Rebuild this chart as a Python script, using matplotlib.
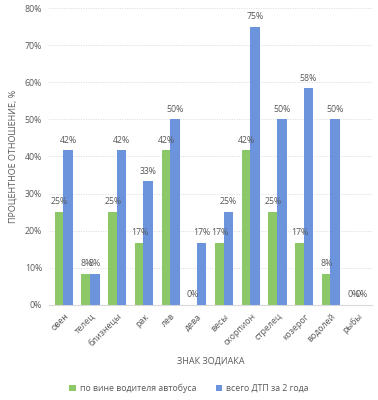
import matplotlib
matplotlib.use("Agg")
import matplotlib.pyplot as plt
import numpy as np
from matplotlib.ticker import PercentFormatter

signs = ["овен", "телец", "близнецы", "рак", "лев", "дева", "весы",
         "скорпион", "стрелец", "козерог", "водолей", "рыбы"]
bus_fault = [25, 8.33, 25, 16.67, 41.67, 0, 16.67, 41.67, 25, 16.67, 8.33, 0]
total = [41.67, 8.33, 41.67, 33.33, 50, 16.67, 25, 75, 50, 58.33, 50, 0]
series_names = ["по вине водителя автобуса", "всего ДТП за 2 года"]

plt.rcParams['font.family'] = ['Open Sans', 'DejaVu Sans']
txt = '#595959'
green = '#8cc868'
blue = '#6b94dc'

fig = plt.figure(figsize=(3.78, 4.0), dpi=100)
ax = fig.add_axes([0.13, 0.238, 0.855, 0.742])

x = np.arange(len(signs))
w = 0.36
b1 = ax.bar(x - 0.16, bus_fault, w, color=green, label=series_names[0], zorder=2)
b2 = ax.bar(x + 0.16, total, w, color=blue, label=series_names[1], zorder=3)

for bars in (b1, b2):
    for r in bars:
        h = r.get_height()
        ax.text(r.get_x() + r.get_width() / 2, h + 1.5, f"{h:.0f}%",
                ha='center', va='bottom', fontsize=6.3, color=txt, zorder=4)

ax.set_ylim(0, 80)
ax.set_xlim(-0.55, len(signs) - 0.45)
ax.set_yticks(range(0, 81, 10))
ax.yaxis.set_major_formatter(PercentFormatter(decimals=0))
ax.set_xticks(x)
ax.set_xticklabels(signs, rotation=45, ha='right', rotation_mode='anchor')
ax.tick_params(axis='both', length=0, labelsize=6.3, colors=txt, pad=5)
ax.grid(axis='y', color='#d9d9d9', linestyle=(0, (1, 1.5)), linewidth=0.7, zorder=0)
for s in ['top', 'right', 'left']:
    ax.spines[s].set_visible(False)
ax.spines['bottom'].set_color('#d9d9d9')

ax.set_xlabel("ЗНАК ЗОДИАКА", fontsize=6.5, color=txt, labelpad=6)
ax.set_ylabel("ПРОЦЕНТНОЕ ОТНОШЕНИЕ, %", fontsize=6.5, color=txt, labelpad=5)

fig.legend(loc='center', bbox_to_anchor=(0.5, 0.03), ncol=2, frameon=False,
           fontsize=6.3, labelcolor=txt, handlelength=0.7, handleheight=0.7,
           columnspacing=2.2, handletextpad=0.5)

fig.savefig("out.png", dpi=100)
